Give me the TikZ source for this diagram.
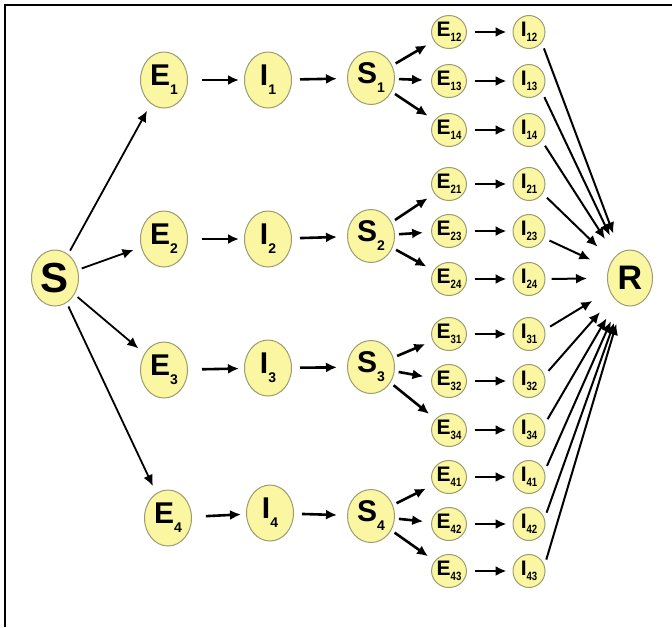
\documentclass[tikz,border=0pt]{standalone}
\usepackage{fontspec}
\setmainfont{Liberation Sans}
\usepackage{xcolor}
\usepackage{graphicx}
\usepackage{tikz}
\definecolor{yellow100}{HTML}{FAF6A2}
\definecolor{olive400}{HTML}{9C9C70}
\usetikzlibrary{arrows.meta,shapes.geometric}
\tikzstyle{estado}=[ellipse, draw=olive400, fill=yellow100, line width=0.5pt, inner sep=0pt, minimum width=23.5pt, minimum height=28pt, font=\bfseries\fontsize{15}{15}\selectfont]
\tikzstyle{estadop}=[estado, minimum width=16pt, minimum height=16.5pt, font=\bfseries\fontsize{10.5}{10.5}\selectfont]
\tikzstyle{seta}=[-{Latex[length=5.5pt,width=5pt]}, line width=1.3pt, shorten <=4pt, shorten >=3pt]
\newcommand{\gsub}[1]{\raisebox{-4.5pt}{\fontsize{7}{7}\selectfont #1}}
\newcommand{\psub}[1]{\raisebox{-2.5pt}{\fontsize{6}{6}\selectfont\scalebox{0.8}[1]{#1}}}

\begin{document}
\begin{tikzpicture}[x=0.5pt, y=-0.5pt]
	\useasboundingbox (0,0) rectangle (672,627);
	\draw[line width=1pt] (5,627) -- (5,5) -- (672,5);
	% estados principais
	\node[estado, font=\bfseries\fontsize{21}{21}\selectfont] (S) at (55,278) {S};
	\node[estado, font=\bfseries\fontsize{17}{17}\selectfont, minimum width=22.5pt] (R) at (630,278) {R};
	\node[estado] (E1) at (164,80) {E\gsub{1}};
	\node[estado] (I1) at (268,80) {I\gsub{1}};
	\node[estado, minimum height=26.5pt] (S1) at (371,78) {S\gsub{1}};
	\node[estado] (E2) at (164,239) {E\gsub{2}};
	\node[estado] (I2) at (268,239) {I\gsub{2}};
	\node[estado, minimum height=26.5pt] (S2) at (371,236) {S\gsub{2}};
	\node[estado] (E3) at (164,370) {E\gsub{3}};
	\node[estado] (I3) at (268,368) {I\gsub{3}};
	\node[estado, minimum height=26.5pt] (S3) at (371,367) {S\gsub{3}};
	\node[estado] (E4) at (168,518) {E\gsub{4}};
	\node[estado] (I4) at (270,513) {I\gsub{4}};
	\node[estado, minimum height=26.5pt] (S4) at (371,516) {S\gsub{4}};
	\foreach \k in {1,...,4} {
		\draw[seta, line width=0.9pt, shorten <=2pt, shorten >=4pt] (S) -- (E\k);
		\draw[seta, shorten <=7pt, shorten >=2.5pt] (E\k) -- (I\k);
		\draw[seta, shorten <=4pt, shorten >=5pt] (I\k) -- (S\k);
	}
	% estados secundarios
	\foreach \n/\y/\s/\a in {12/32/1/-40, 13/81/1/-40, 14/130/1/-40, 21/184/2/-35, 23/231/2/-25, 24/279/2/0,
		31/334/3/15, 32/381/3/20, 34/430/3/20, 41/477/4/20, 42/524/4/20, 43/571/4/20} {
		\node[estadop] (E\n) at (449,\y) {E\psub{\n}};
		\node[estadop] (I\n) at (529,\y) {I\psub{\n}};
		\draw[seta, shorten <=2pt, shorten >=4pt] (S\s) -- (E\n);
		\draw[seta] (E\n) -- (I\n);
		\draw[seta, line width=1pt, shorten <=3pt, shorten >=10pt] (I\n.\a) -- (R);
	}
\end{tikzpicture}
\end{document}
